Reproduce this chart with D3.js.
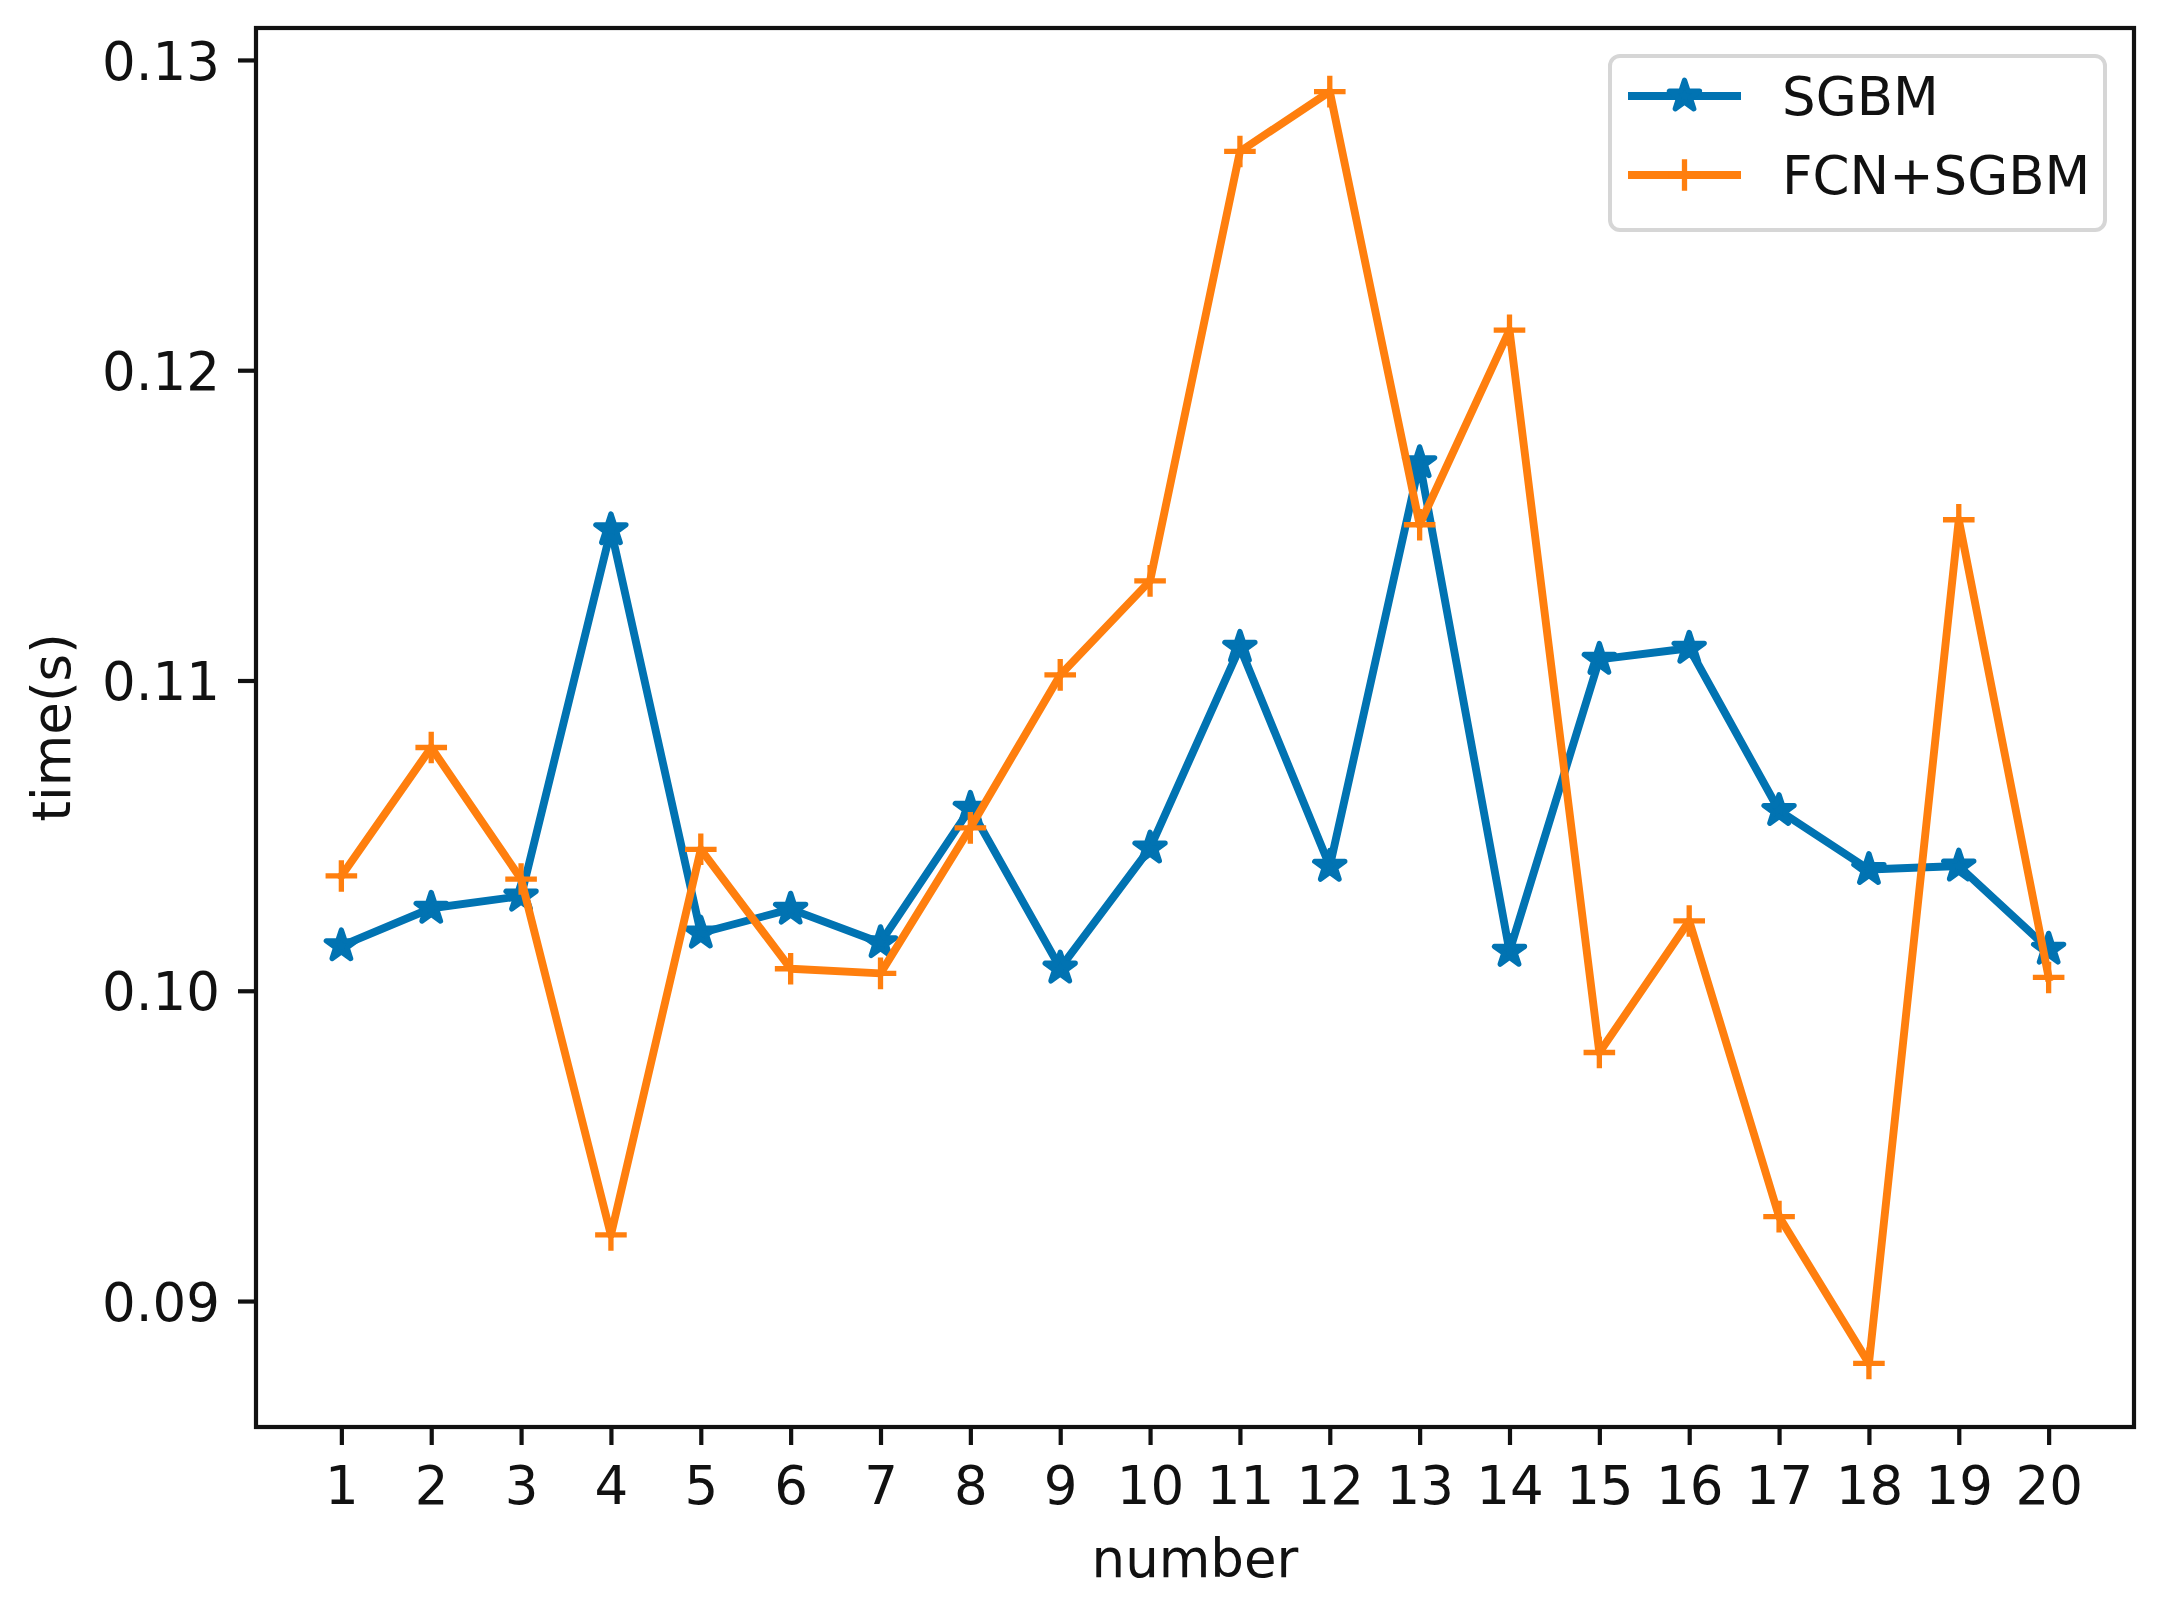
<!DOCTYPE html>
<html><head><meta charset="utf-8">
<script src="https://cdn.jsdelivr.net/npm/d3@7"></script>
<style>body{margin:0;background:#fff}</style>
</head><body>
<svg id="c" width="2161" height="1598"></svg>
<script>
// ---- data ----
const numbers = [1,2,3,4,5,6,7,8,9,10,11,12,13,14,15,16,17,18,19,20];
const sgbm    = [0.10145,0.10266,0.10305,0.11486,0.10186,0.10263,0.10155,0.10588,0.10073,0.10460,
                 0.11107,0.10401,0.11702,0.10127,0.11068,0.11104,0.10581,0.10391,0.10402,0.10134];
const fcnSgbm = [0.10370,0.10784,0.10360,0.09213,0.10456,0.10071,0.10056,0.10525,0.11018,0.11321,
                 0.12705,0.12898,0.11502,0.12129,0.09801,0.10225,0.09272,0.08799,0.11518,0.10043];
const seriesNames = ["SGBM","FCN+SGBM"];
const yTickValues = [0.09,0.10,0.11,0.12,0.13];
const xLabel = "number";
const yLabel = "time(s)";

// ---- layout ----
const W = 2161, H = 1598;
const L = 256, R = 2134, T = 28, B = 1427;
const FONT = "DejaVu Sans";
const FS = 53;
const blue = "#0173b2", orange = "#ff7f0e";
const lw = 7.9, ms = 15.8, mew = 5.3;

const svg = d3.select("#c");
svg.append("rect").attr("width",W).attr("height",H).attr("fill","#fff");

// matplotlib-like 5% margins
const xMin = d3.min(numbers), xMax = d3.max(numbers);
const xPad = (xMax-xMin)*0.05;
const x = d3.scaleLinear().domain([xMin-xPad, xMax+xPad]).range([L,R]);
const all = sgbm.concat(fcnSgbm);
const yMin = d3.min(all), yMax = d3.max(all);
const yPad = (yMax-yMin)*0.05;
const y = d3.scaleLinear().domain([yMin-yPad, yMax+yPad]).range([B,T]);

// axes
const xAxis = d3.axisBottom(x).tickValues(numbers).tickFormat(d3.format("d"))
  .tickSize(18).tickPadding(21).tickSizeOuter(0);
const yAxis = d3.axisLeft(y).tickValues(yTickValues).tickFormat(d3.format(".2f"))
  .tickSize(18).tickPadding(18).tickSizeOuter(0);

const gx = svg.append("g").attr("transform",`translate(0,${B})`).call(xAxis);
const gy = svg.append("g").attr("transform",`translate(${L},0)`).call(yAxis);
[gx,gy].forEach(g=>{
  g.select(".domain").remove();
  g.selectAll(".tick line").attr("stroke","#111").attr("stroke-width",4.2);
  g.selectAll(".tick text").attr("fill","#111").attr("font-family",FONT).attr("font-size",FS);
});
gy.selectAll(".tick text").attr("dy","0.36em");

// series
function drawSeries(vals, color, marker){
  const line = d3.line().x((d,i)=>x(numbers[i])).y(d=>y(d));
  svg.append("path").datum(vals).attr("d",line).attr("fill","none")
    .attr("stroke",color).attr("stroke-width",lw).attr("stroke-linejoin","round").attr("stroke-linecap","square");
  const g = svg.append("g");
  vals.forEach((v,i)=>drawMarker(g, x(numbers[i]), y(v), color, marker));
}
function drawMarker(g, cx, cy, color, marker){
  if(marker==="star"){
    g.append("path").attr("d", d3.symbol(d3.symbolStar, ms*ms/0.8908130915292852)())
      .attr("transform",`translate(${cx},${cy})`)
      .attr("fill",color).attr("stroke",color).attr("stroke-width",mew).attr("stroke-linejoin","round");
  } else {
    g.append("path").attr("d",`M${-ms},0H${ms}M0,${-ms}V${ms}`)
      .attr("transform",`translate(${cx},${cy})`)
      .attr("fill","none").attr("stroke",color).attr("stroke-width",mew);
  }
}
drawSeries(sgbm, blue, "star");
drawSeries(fcnSgbm, orange, "plus");

// spines
svg.append("rect").attr("x",L).attr("y",T).attr("width",R-L).attr("height",B-T)
  .attr("fill","none").attr("stroke","#111").attr("stroke-width",4.2);

// axis labels
svg.append("text").attr("x",(L+R)/2).attr("y",1577).attr("text-anchor","middle")
  .attr("font-family",FONT).attr("font-size",FS).attr("fill","#111").text(xLabel);
svg.append("text").attr("transform",`translate(70,${(T+B)/2}) rotate(-90)`).attr("text-anchor","middle")
  .attr("font-family",FONT).attr("font-size",FS).attr("fill","#111").text(yLabel);

// legend
const lg = svg.append("g");
lg.append("rect").attr("x",1610).attr("y",56).attr("width",495).attr("height",174).attr("rx",10)
  .attr("fill","#fff").attr("fill-opacity",0.8).attr("stroke","#d6d6d6").attr("stroke-width",4);
const legendItems = [{name:seriesNames[0],color:blue,marker:"star"},{name:seriesNames[1],color:orange,marker:"plus"}];
legendItems.forEach((it,i)=>{
  const ly = 96 + i*79;
  lg.append("line").attr("x1",1628).attr("x2",1741).attr("y1",ly).attr("y2",ly)
    .attr("stroke",it.color).attr("stroke-width",lw);
  drawMarker(lg, 1684.5, ly, it.color, it.marker);
  lg.append("text").attr("x",1782).attr("y",ly).attr("dy","0.36em")
    .attr("font-family",FONT).attr("font-size",FS).attr("fill","#111").text(it.name);
});
</script>
</body></html>
